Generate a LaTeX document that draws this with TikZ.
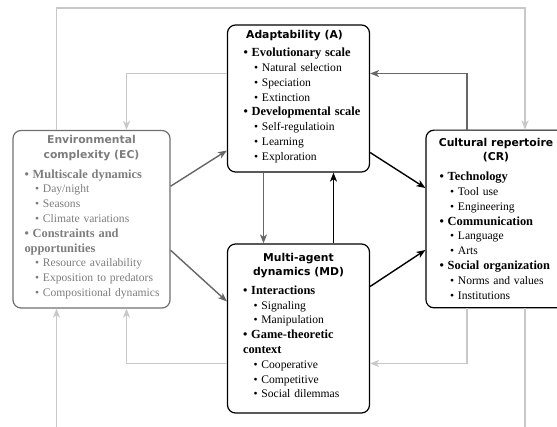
\documentclass[tikz,border=0pt]{standalone}
\usepackage{fontspec}
\setmainfont{Liberation Serif}
\newfontfamily\headfont{DejaVu Sans}
\usepackage{tikz}
\usetikzlibrary{arrows.meta}
\definecolor{envline}{RGB}{112,112,112}
\definecolor{envtext}{RGB}{125,125,125}
\definecolor{linkdark}{RGB}{102,102,102}
\definecolor{linklight}{RGB}{200,200,200}
\tikzset{
  panel/.style={draw, rounded corners=8pt, line width=1.2pt, align=left,
    inner ysep=0pt, font=\fontsize{11.6}{14.8}\selectfont},
  link/.style={line width=1.4pt, -{Stealth[length=9pt,width=7pt,inset=2.5pt]}},
  strong/.style={link, black},
  medium/.style={link, linkdark},
  faint/.style={link, linklight}
}
\newcommand{\paneltitle}[1]{\leavevmode\hbox to\linewidth{\hss\headfont\bfseries\fontsize{10.8}{14.8}\selectfont #1\hss}\\}
\newcommand{\topicfont}{\bfseries\fontsize{12.4}{14.8}\selectfont}
\newcommand{\topic}[1]{\mbox{\topicfont\textbullet\ #1}\\}
\newcommand{\leaf}[1]{\mbox{\hspace*{10.5pt}\textbullet\ #1}\\}

\begin{document}
\begin{tikzpicture}[x=1pt,y=1pt]
  \useasboundingbox (0,0) rectangle (557,426);
  \clip (0,0) rectangle (557,426);
  % the four panels
  \node[panel, minimum width=142pt, minimum height=147pt, text width=110pt, inner xsep=16pt]
    (adapt) at (298.5,327.5) {\paneltitle{Adaptability (A)\hspace*{8pt}}[3.5pt]
      \topic{Evolutionary scale}
      \leaf{Natural selection}
      \leaf{Speciation}
      \leaf{Extinction}
      \topic{Developmental scale}
      \leaf{Self-regulatioin}
      \leaf{Learning}
      \leaf{Exploration}\kern4pt};
  \node[panel, draw=envline, text=envtext, minimum width=157pt, minimum height=177.5pt, text width=134pt, inner xsep=11.5pt]
    (env) at (91.5,206.75) {\paneltitle{Environmental}\paneltitle{complexity (EC)}[5pt]
      \topic{Multiscale dynamics}
      \leaf{Day/night}
      \leaf{Seasons}
      \leaf{Climate variations}
      \topic{Constraints and}
      \mbox{\topicfont opportunities}\\
      \leaf{Resource availability}
      \leaf{Exposition to predators}
      \leaf{Compositional dynamics}\kern4pt};
  \node[panel, minimum width=142pt, minimum height=169pt, text width=111pt, inner xsep=15.5pt]
    (agents) at (298.5,97.5) {\paneltitle{Multi-agent}\paneltitle{dynamics (MD)}[3.5pt]
      \topic{Interactions}
      \leaf{Signaling}
      \leaf{Manipulation}
      \topic{Game-theoretic}
      \mbox{\topicfont context}\\
      \leaf{Cooperative}
      \leaf{Competitive}
      \leaf{Social dilemmas}\kern6pt};
  \node[panel, minimum width=140pt, minimum height=177.7pt, text width=113pt, inner xsep=13.5pt]
    (culture) at (496,207) {\paneltitle{Cultural repertoire}\paneltitle{(CR)}[5pt]
      \topic{Technology}
      \leaf{Tool use}
      \leaf{Engineering}
      \topic{Communication}
      \leaf{Language}
      \leaf{Arts}
      \topic{Social organization}
      \leaf{Norms and values}
      \leaf{Institutions}\kern1pt};
  % loose ends below the frame
  \coordinate (loopin) at (56.5,-5);
  \coordinate (loopout) at (525,-5);
  % feedback loops (light)
  \draw[faint] ([xshift=-35pt]env.north) -- ++(0,122) -| ([xshift=29pt]culture.north);
  \draw[faint] ([yshift=25pt]adapt.west) -| ([xshift=35pt]env.north);
  \draw[faint] ([xshift=-29pt]culture.south) |- ([yshift=-35pt]agents.east);
  \draw[faint] ([yshift=-35pt]agents.west) -| ([xshift=35pt]env.south);
  \draw[faint] (loopin) -- ([xshift=-35pt]env.south);
  \draw[faint,-] ([xshift=29pt]culture.south) -- (loopout);
  % main links
  \draw[medium] ([xshift=-29pt]culture.north) |- ([yshift=25pt]adapt.east);
  \draw[medium] ([yshift=33pt]env.east) -- ([yshift=-52pt]adapt.west);
  \draw[medium] ([yshift=-31pt]env.east) -- ([yshift=27pt]agents.west);
  \draw[medium] ([xshift=-35pt]adapt.south) -- ([xshift=-35pt]agents.north);
  \draw[strong] ([xshift=35pt]agents.north) -- ([xshift=35pt]adapt.south);
  \draw[strong] ([yshift=-54pt]adapt.east) -- ([yshift=31pt]culture.west);
  \draw[strong] ([yshift=42pt]agents.east) -- ([yshift=-31pt]culture.west);
\end{tikzpicture}
\end{document}
